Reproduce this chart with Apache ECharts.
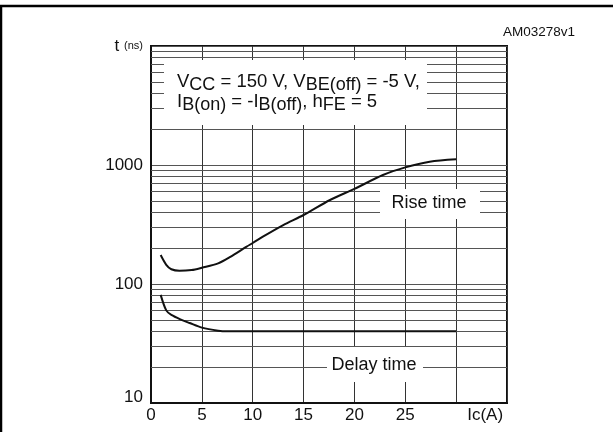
<!DOCTYPE html>
<html>
<head>
<meta charset="utf-8">
<script src="https://cdn.jsdelivr.net/npm/echarts@6/dist/echarts.min.js"></script>
<style>
html, body { margin: 0; padding: 0; background: #fff; }
#main { width: 613px; height: 432px; }
</style>
</head>
<body>
<div id="main"></div>
<script>
// rise time / delay time vs collector current
var riseTime = [
  [0.95, 175], [1.5, 145], [2, 133], [2.8, 129], [4, 131], [5, 137],
  [6.6, 149], [7.8, 169], [9.4, 206], [10, 221], [11, 250], [13, 313],
  [15, 380], [17.6, 508], [20, 630], [22.8, 824], [25, 955], [27.4, 1067], [30, 1117]
];
var delayTime = [
  [0.95, 81], [1.5, 60], [2, 55], [3, 50], [3.8, 47], [5, 43],
  [6.6, 40.5], [7.5, 40], [30, 40]
];
var xTicks = [0, 5, 10, 15, 20, 25];
var yTicks = [10, 100, 1000];
var minorLines = [20, 30, 40, 50, 60, 70, 80, 90,
  200, 300, 400, 500, 600, 700, 800, 900,
  2000, 3000, 4000, 5000, 6000, 7000, 8000, 9000];

var myChart = echarts.init(document.getElementById('main'));
var font = '"Liberation Sans", Arial, sans-serif';

var option = {
  animation: false,
  grid: {
    left: 151, right: 106, top: 46, bottom: 29,
    show: true, borderColor: '#111', borderWidth: 2
  },
  xAxis: {
    type: 'value', min: 0, max: 35, interval: 5,
    axisLine: { lineStyle: { color: '#111', width: 2 } },
    axisTick: { show: false },
    splitLine: { lineStyle: { color: '#333', width: 1 } },
    axisLabel: {
      margin: 4, color: '#111', fontSize: 17, fontFamily: font,
      formatter: function (v) {
        if (v === 30) return '{u|Ic(A)}';
        if (xTicks.indexOf(v) < 0) return '';
        return v;
      },
      rich: { u: { fontSize: 17, fontFamily: font, color: '#111', padding: [0, 0, 0, 58] } }
    }
  },
  yAxis: {
    type: 'log', logBase: 10, min: 10, max: 10000,
    axisLine: { lineStyle: { color: '#111', width: 2 } },
    axisTick: { show: false },
    splitLine: { lineStyle: { color: '#555', width: 1 } },
    axisLabel: {
      margin: 8, color: '#111', fontSize: 17, fontFamily: font,
      formatter: function (v) {
        if (v === 10000) return '{t|t} {n|(ns)}';
        if (v === 10) return '{b|10}';
        if (yTicks.indexOf(v) < 0) return '';
        return v;
      },
      rich: {
        t: { fontSize: 17, fontFamily: font, color: '#111' },
        n: { fontSize: 11, fontFamily: font, color: '#111' },
        b: { fontSize: 17, fontFamily: font, color: '#111', padding: [0, 0, 12, 0] }
      }
    }
  },
  graphic: [
    { type: 'polyline', z: 10, shape: { points: [[1, 432], [1, 6], [613, 6]] },
      style: { stroke: '#000', lineWidth: 2.5, fill: null } },
    { type: 'text', z: 10, style: { x: 575, y: 32, text: 'AM03278v1', align: 'right',
      verticalAlign: 'middle', font: '13.5px ' + font, fill: '#111' } },
    { type: 'rect', z: 10, shape: { x: 164, y: 60, width: 263, height: 65 }, style: { fill: '#fff' } },
    { type: 'rect', z: 10, shape: { x: 380, y: 189, width: 100, height: 30 }, style: { fill: '#fff' } },
    { type: 'rect', z: 10, shape: { x: 327, y: 347, width: 96, height: 35 }, style: { fill: '#fff' } },
    { type: 'text', z: 11, style: { x: 429, y: 203, text: 'Rise time', align: 'center',
      verticalAlign: 'middle', font: '18px ' + font, fill: '#111' } },
    { type: 'text', z: 11, style: { x: 374, y: 365, text: 'Delay time', align: 'center',
      verticalAlign: 'middle', font: '18px ' + font, fill: '#111' } },
    { type: 'text', z: 11, style: {
      x: 177, y: 72, verticalAlign: 'top', fill: '#111',
      text: '{m|V}{s|CC}{m| = 150 V, V}{s|BE(off)}{m| = -5 V,}\n{m|I}{s|B(on)}{m| = -I}{s|B(off)}{m|, h}{s|FE}{m| = 5}',
      rich: {
        m: { fontSize: 18.5, fontFamily: font, lineHeight: 20, verticalAlign: 'top', fill: '#111' },
        s: { fontSize: 18, fontFamily: font, lineHeight: 20, padding: [4, 0, 0, 0], verticalAlign: 'top', fill: '#111' }
      }
    } }
  ],
  series: [
    {
      name: 'grid', type: 'line', data: [], silent: true,
      markLine: {
        silent: true, symbol: 'none', z: 1, animation: false,
        label: { show: false },
        lineStyle: { color: '#555', width: 1, type: 'solid' },
        data: minorLines.map(function (v) { return { yAxis: v }; })
      }
    },
    {
      name: 'Rise time', type: 'line', data: riseTime, z: 20,
      showSymbol: false, smooth: 0.3,
      lineStyle: { color: '#111', width: 2 }
    },
    {
      name: 'Delay time', type: 'line', data: delayTime, z: 20,
      showSymbol: false, smooth: 0.3,
      lineStyle: { color: '#111', width: 2 }
    }
  ]
};
myChart.setOption(option);
</script>
</body>
</html>
